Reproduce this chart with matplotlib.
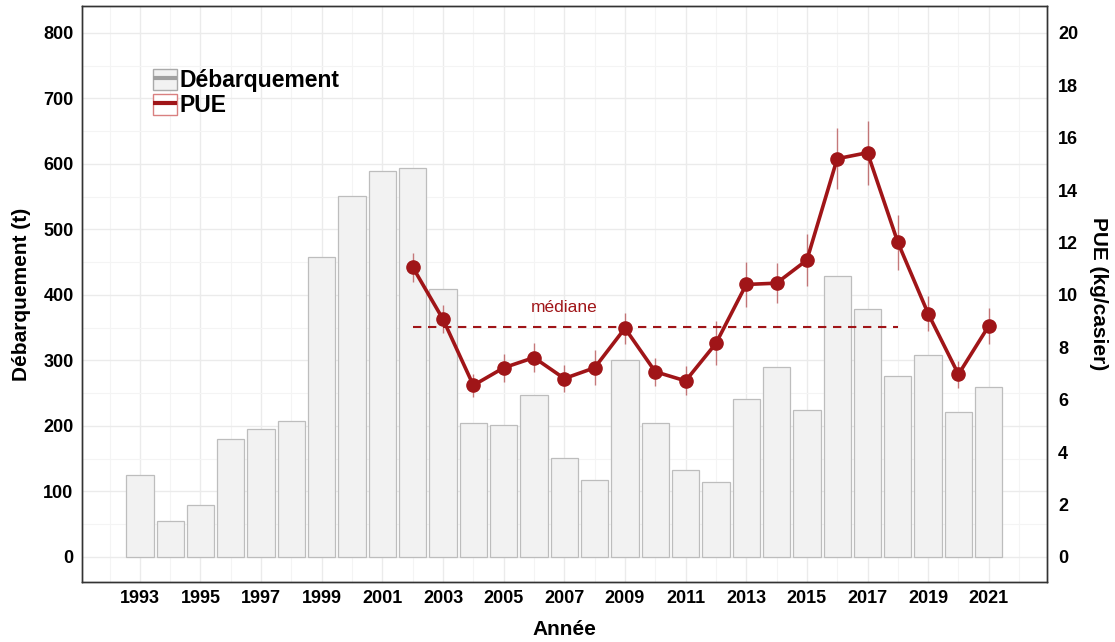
import numpy as np
import matplotlib
matplotlib.use("Agg")
import matplotlib.pyplot as plt
from matplotlib.patches import Patch
from matplotlib.lines import Line2D
from matplotlib.legend_handler import HandlerTuple
from matplotlib.ticker import MultipleLocator

plt.rcParams['font.family'] = ['Liberation Sans', 'DejaVu Sans']

# landings (t), 1993-2021
years = np.arange(1993, 2022)
debarquement = [125, 55, 79, 180, 195, 208, 458, 551, 589, 594,
                409, 205, 202, 247, 151, 118, 301, 205, 133, 115,
                241, 290, 225, 429, 379, 277, 308, 222, 260]

# CPUE (kg/casier), 2002-2021
pue_years = np.arange(2002, 2022)
pue = [11.06, 9.07, 6.55, 7.22, 7.61, 6.81, 7.22, 8.73, 7.07, 6.72,
       8.15, 10.40, 10.45, 11.33, 15.20, 15.43, 12.01, 9.29, 6.97, 8.82]
pue_err = [0.55, 0.54, 0.45, 0.54, 0.54, 0.53, 0.67, 0.60, 0.54, 0.55,
           0.84, 0.87, 0.76, 1.00, 1.16, 1.22, 1.05, 0.66, 0.52, 0.69]

median_span = (2002, 2018)

red = '#A01518'
bar_fill = '#F2F2F2'
bar_edge = '#BDBDBD'
grid_col = '#EBEBEB'

fig = plt.figure(figsize=(11.15, 6.42), dpi=100)
ax1 = fig.add_axes([0.0735, 0.0935, 0.8655, 0.8972])
ax2 = ax1.twinx()

ax1.bar(years, debarquement, width=0.9, color=bar_fill, edgecolor=bar_edge,
        linewidth=0.9, zorder=2)

ax1.set_xlim(1991.09, 2022.92)
ax1.set_ylim(-38.2, 841.2)
ax2.set_ylim(-38.2 / 40, 841.2 / 40)

ax1.set_xticks(np.arange(1993, 2022, 2))
ax1.xaxis.set_minor_locator(MultipleLocator(1))
ax1.yaxis.set_major_locator(MultipleLocator(100))
ax1.yaxis.set_minor_locator(MultipleLocator(50))
ax2.set_yticks(np.arange(0, 21, 2))

ax1.grid(True, which='major', color=grid_col, linewidth=1.0, zorder=0)
ax1.grid(True, which='minor', color='#F4F4F4', linewidth=0.8, zorder=0)
ax1.set_axisbelow(True)

# PUE with error bars
ax2.errorbar(pue_years, pue, yerr=pue_err, fmt='none', ecolor=red,
             elinewidth=1.0, alpha=0.55, zorder=3)
ax2.plot(pue_years, pue, color=red, linewidth=2.6, marker='o',
         markersize=9.5, zorder=4)

med = np.median(pue)
ax2.plot(median_span, [med, med], color=red, linestyle=(0, (4, 3.2)),
         linewidth=1.5, zorder=3)
ax2.text(2007, med + 0.75, 'médiane', color=red, fontsize=12.5,
         ha='center', va='center')

for ax in (ax1, ax2):
    ax.tick_params(which='both', length=0, labelsize=13, pad=6)
    for lab in ax.get_xticklabels() + ax.get_yticklabels():
        lab.set_fontweight('bold')
    for sp in ax.spines.values():
        sp.set_color('#333333')
        sp.set_linewidth(1.0)
ax2.tick_params(axis='y', pad=8)

ax1.set_xlabel('Année', fontsize=15, fontweight='bold', labelpad=9)
ax1.set_ylabel('Débarquement (t)', fontsize=15, fontweight='bold', labelpad=9)
ax2.set_ylabel('PUE (kg/casier)', fontsize=15, fontweight='bold', labelpad=8,
               rotation=270, va='bottom')

h1 = (Patch(facecolor=bar_fill, edgecolor='#AAAAAA', linewidth=1.0),
      Line2D([], [], color='#A0A0A0', linewidth=3, solid_capstyle='butt'))
h2 = (Patch(facecolor='white', edgecolor='#D98080', linewidth=1.0),
      Line2D([], [], color=red, linewidth=3, solid_capstyle='butt'))
leg = ax2.legend([h1, h2], ['Débarquement', 'PUE'],
                 handler_map={tuple: HandlerTuple(ndivide=1, pad=0)},
                 loc='upper left', bbox_to_anchor=(0.0736, 0.8906),
                 frameon=False, borderpad=0, borderaxespad=0,
                 handlelength=1.05, handleheight=1.05,
                 handletextpad=0.1, labelspacing=0.05,
                 prop={'size': 16.5, 'weight': 'bold'})

fig.savefig('out.png', dpi=100)
